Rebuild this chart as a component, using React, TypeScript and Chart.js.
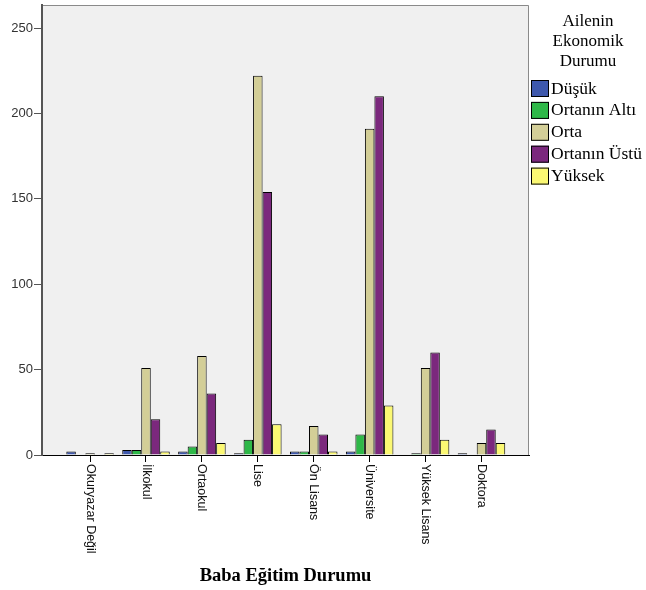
import React, { useEffect, useRef } from 'react';
import { Chart, registerables } from 'chart.js';

Chart.register(...registerables);

// ---- data ----
const categories = ['Okuryazar Değil', 'İlkokul', 'Ortaokul', 'Lise', 'Ön Lisans', 'Üniversite', 'Yüksek Lisans', 'Doktora'];
const seriesNames = ['Düşük', 'Ortanın Altı', 'Orta', 'Ortanın Üstü', 'Yüksek'];
const dusuk = [2, 3, 2, 1, 2, 2, 0, 1];
const ortaninAlti = [0, 3, 5, 9, 2, 12, 1, 0];
const orta = [1, 51, 58, 222, 17, 191, 51, 7];
const ortaninUstu = [0, 21, 36, 154, 12, 210, 60, 15];
const yuksek = [1, 2, 7, 18, 2, 29, 9, 7];
const yTicks = [0, 50, 100, 150, 200, 250];
const legendTitle = ['Ailenin', 'Ekonomik', 'Durumu'];
const xTitle = 'Baba Eğitim Durumu';
const colors = ['#3E58AC', '#2EB848', '#D3CE97', '#7B287D', '#FBF873'];

const seriesValues = [dusuk, ortaninAlti, orta, ortaninUstu, yuksek];

const SERIF = '"Liberation Serif", "Times New Roman", serif';
const SANS = '"Liberation Sans", Arial, sans-serif';

const decorPlugin = {
  id: 'spssDecor',
  beforeDraw(chart: any) {
    const { ctx, chartArea: a } = chart;
    ctx.save();
    ctx.fillStyle = '#F0F0F0';
    ctx.fillRect(a.left, a.top, a.right - a.left, a.bottom - a.top);
    ctx.strokeStyle = '#8A8A8A';
    ctx.lineWidth = 1;
    ctx.beginPath();
    ctx.moveTo(a.left, a.top + 0.5);
    ctx.lineTo(a.right - 0.5, a.top + 0.5);
    ctx.lineTo(a.right - 0.5, a.bottom);
    ctx.stroke();
    ctx.restore();
  },
  afterDraw(chart: any) {
    const { ctx, chartArea: a } = chart;
    const xs = chart.scales.x;
    ctx.save();
    // rotated category labels
    ctx.fillStyle = '#111';
    ctx.font = `12.5px ${SANS}`;
    ctx.textAlign = 'left';
    ctx.textBaseline = 'middle';
    categories.forEach((c, i) => {
      const px = xs.getPixelForValue(i);
      ctx.save();
      ctx.translate(px, a.bottom + 9);
      ctx.rotate(Math.PI / 2);
      ctx.fillText(c, 0, 0);
      ctx.restore();
    });
    // x title
    ctx.fillStyle = '#000';
    ctx.font = `bold 18.5px ${SERIF}`;
    ctx.textAlign = 'center';
    ctx.textBaseline = 'middle';
    ctx.fillText(xTitle, (a.left + a.right) / 2, 576);
    // legend
    const cx = 588;
    ctx.font = `17px ${SERIF}`;
    legendTitle.forEach((t, i) => {
      ctx.fillText(t, cx, 22 + i * 20);
    });
    ctx.font = `17.5px ${SERIF}`;
    ctx.textAlign = 'left';
    chart.data.datasets.forEach((ds: any, i: number) => {
      const top = 80 + i * 21.9;
      ctx.fillStyle = ds.backgroundColor;
      ctx.fillRect(531, top, 18, 17);
      ctx.strokeStyle = '#000';
      ctx.lineWidth = 1;
      ctx.strokeRect(531.5, top + 0.5, 17, 16);
      ctx.fillStyle = '#000';
      ctx.fillText(ds.label, 551, top + 9);
    });
    ctx.restore();
  },
};

export default function App() {
  const ref = useRef<HTMLCanvasElement | null>(null);
  useEffect(() => {
    if (!ref.current) return;
    const chart = new Chart(ref.current, {
      type: 'bar',
      data: {
        datasets: seriesNames.map((name, s) => ({
          label: name,
          data: seriesValues[s].map((v, i) => ({ x: i, y: v })),
          backgroundColor: colors[s],
          borderColor: '#000',
          borderWidth: 1,
          categoryPercentage: 0.85,
          barPercentage: 1.0,
        })),
      },
      options: {
        responsive: false,
        animation: false,
        layout: { padding: { top: 5, right: 117, left: 0, bottom: 0 } },
        plugins: {
          legend: { display: false },
          tooltip: { enabled: false },
        },
        scales: {
          x: {
            type: 'linear',
            min: -0.86,
            max: 7.85,
            offset: false,
            ticks: { display: false, stepSize: 1, includeBounds: false },
            grid: { offset: false, drawOnChartArea: false, drawTicks: true, tickLength: 7, color: '#000' },
            border: { display: true, color: '#000', width: 1 },
            afterFit: (s: any) => { s.height = 135; s.paddingLeft = 0; s.paddingRight = 0; },
          },
          y: {
            type: 'linear',
            min: 0,
            max: 263.5,
            ticks: {
              stepSize: 50,
              includeBounds: false,
              padding: 1,
              color: '#333',
              font: { family: SANS, size: 13 },
              callback: (v: any) => (yTicks.includes(Number(v)) ? String(v) : ''),
            },
            grid: { drawOnChartArea: false, drawTicks: true, tickLength: 8, color: '#555', lineWidth: 1 },
            border: { display: true, color: '#555', width: 2 },
            afterFit: (s: any) => { s.width = 42; s.paddingTop = 0; s.paddingBottom = 0; },
          },
        },
      },
      plugins: [decorPlugin],
    } as any);
    return () => chart.destroy();
  }, []);
  return (
    <div style={{ position: 'fixed', left: 0, top: 0, width: 646, height: 590, background: '#fff' }}>
      <canvas ref={ref} width={646} height={590} style={{ width: 646, height: 590, display: 'block' }} />
    </div>
  );
}
